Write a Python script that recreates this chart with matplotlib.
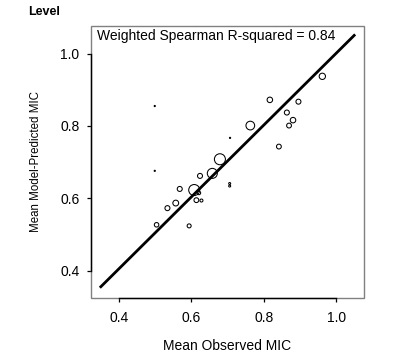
import matplotlib
matplotlib.use("Agg")
import matplotlib.pyplot as plt
from matplotlib.patches import Rectangle

plt.rcParams["font.family"] = ["Liberation Sans", "DejaVu Sans"]

# mean observed vs model-predicted MIC, one point per group
observed = [0.962, 0.817, 0.896, 0.864, 0.881, 0.870, 0.763, 0.842,
            0.499, 0.499, 0.707, 0.706, 0.706,
            0.679, 0.658, 0.624, 0.608, 0.621, 0.568, 0.557, 0.534,
            0.614, 0.628, 0.504, 0.594]
predicted = [0.937, 0.872, 0.867, 0.837, 0.816, 0.801, 0.801, 0.743,
             0.855, 0.676, 0.767, 0.641, 0.634,
             0.708, 0.669, 0.662, 0.623, 0.615, 0.626, 0.587, 0.573,
             0.595, 0.594, 0.527, 0.524]
weight = [6.3, 5.5, 5, 5, 5.5, 4.8, 8.7, 4.8,
          1.2, 1.2, 1.2, 2, 2,
          11, 10, 5, 11, 3.5, 5, 5.8, 5,
          4.8, 3, 4.5, 4]

fit_x = [0.35, 1.05]
fit_y = [0.356, 1.050]

r2_text = "Weighted Spearman R-squared = 0.84"
ticks = [0.4, 0.6, 0.8, 1.0]

fig = plt.figure(figsize=(3.93, 3.55), dpi=100)
ax = fig.add_axes([0.2308, 0.1597, 0.6962, 0.7671])

px = 0.72  # points per pixel at 100 dpi
sizes = [(w * px) ** 2 for w in weight]
ax.scatter(observed, predicted, s=sizes, facecolors="none",
           edgecolors="black", linewidths=0.75, zorder=3)
ax.plot(fit_x, fit_y, color="black", linewidth=2.0, zorder=2)

ax.set_xlim(0.322, 1.078)
ax.set_ylim(0.324, 1.076)
ax.set_xticks(ticks)
ax.set_yticks(ticks)
ax.set_xticklabels([f"{t:.1f}" for t in ticks])
ax.set_yticklabels([f"{t:.1f}" for t in ticks])
ax.tick_params(direction="out", length=3, width=0.9, labelsize=10,
               color="black", pad=5)
ax.tick_params(axis="x", pad=6)

# R-style axes: black lines between first and last tick, grey box around
for side in ["top", "right"]:
    ax.spines[side].set_visible(False)
for side in ["left", "bottom"]:
    ax.spines[side].set_bounds(0.4, 1.0)
    ax.spines[side].set_linewidth(1.0)
    ax.spines[side].set_color("black")
    ax.spines[side].set_zorder(5)
ax.add_patch(Rectangle((0, 0), 1, 1, transform=ax.transAxes, fill=False,
                       edgecolor="#808080", linewidth=1.0, clip_on=False,
                       zorder=4))

ax.text(0.022, 0.99, r2_text, transform=ax.transAxes, fontsize=10,
        ha="left", va="top")

ax.set_xlabel("Mean Observed MIC", fontsize=10, labelpad=10)
fig.text(0.091, 0.544, "Mean Model-Predicted MIC", fontsize=8.3,
         rotation=90, ha="center", va="center")
fig.text(0.112, 0.966, "Level", fontsize=9, fontweight="bold",
         ha="center", va="center")

fig.savefig("out.png", dpi=100)
